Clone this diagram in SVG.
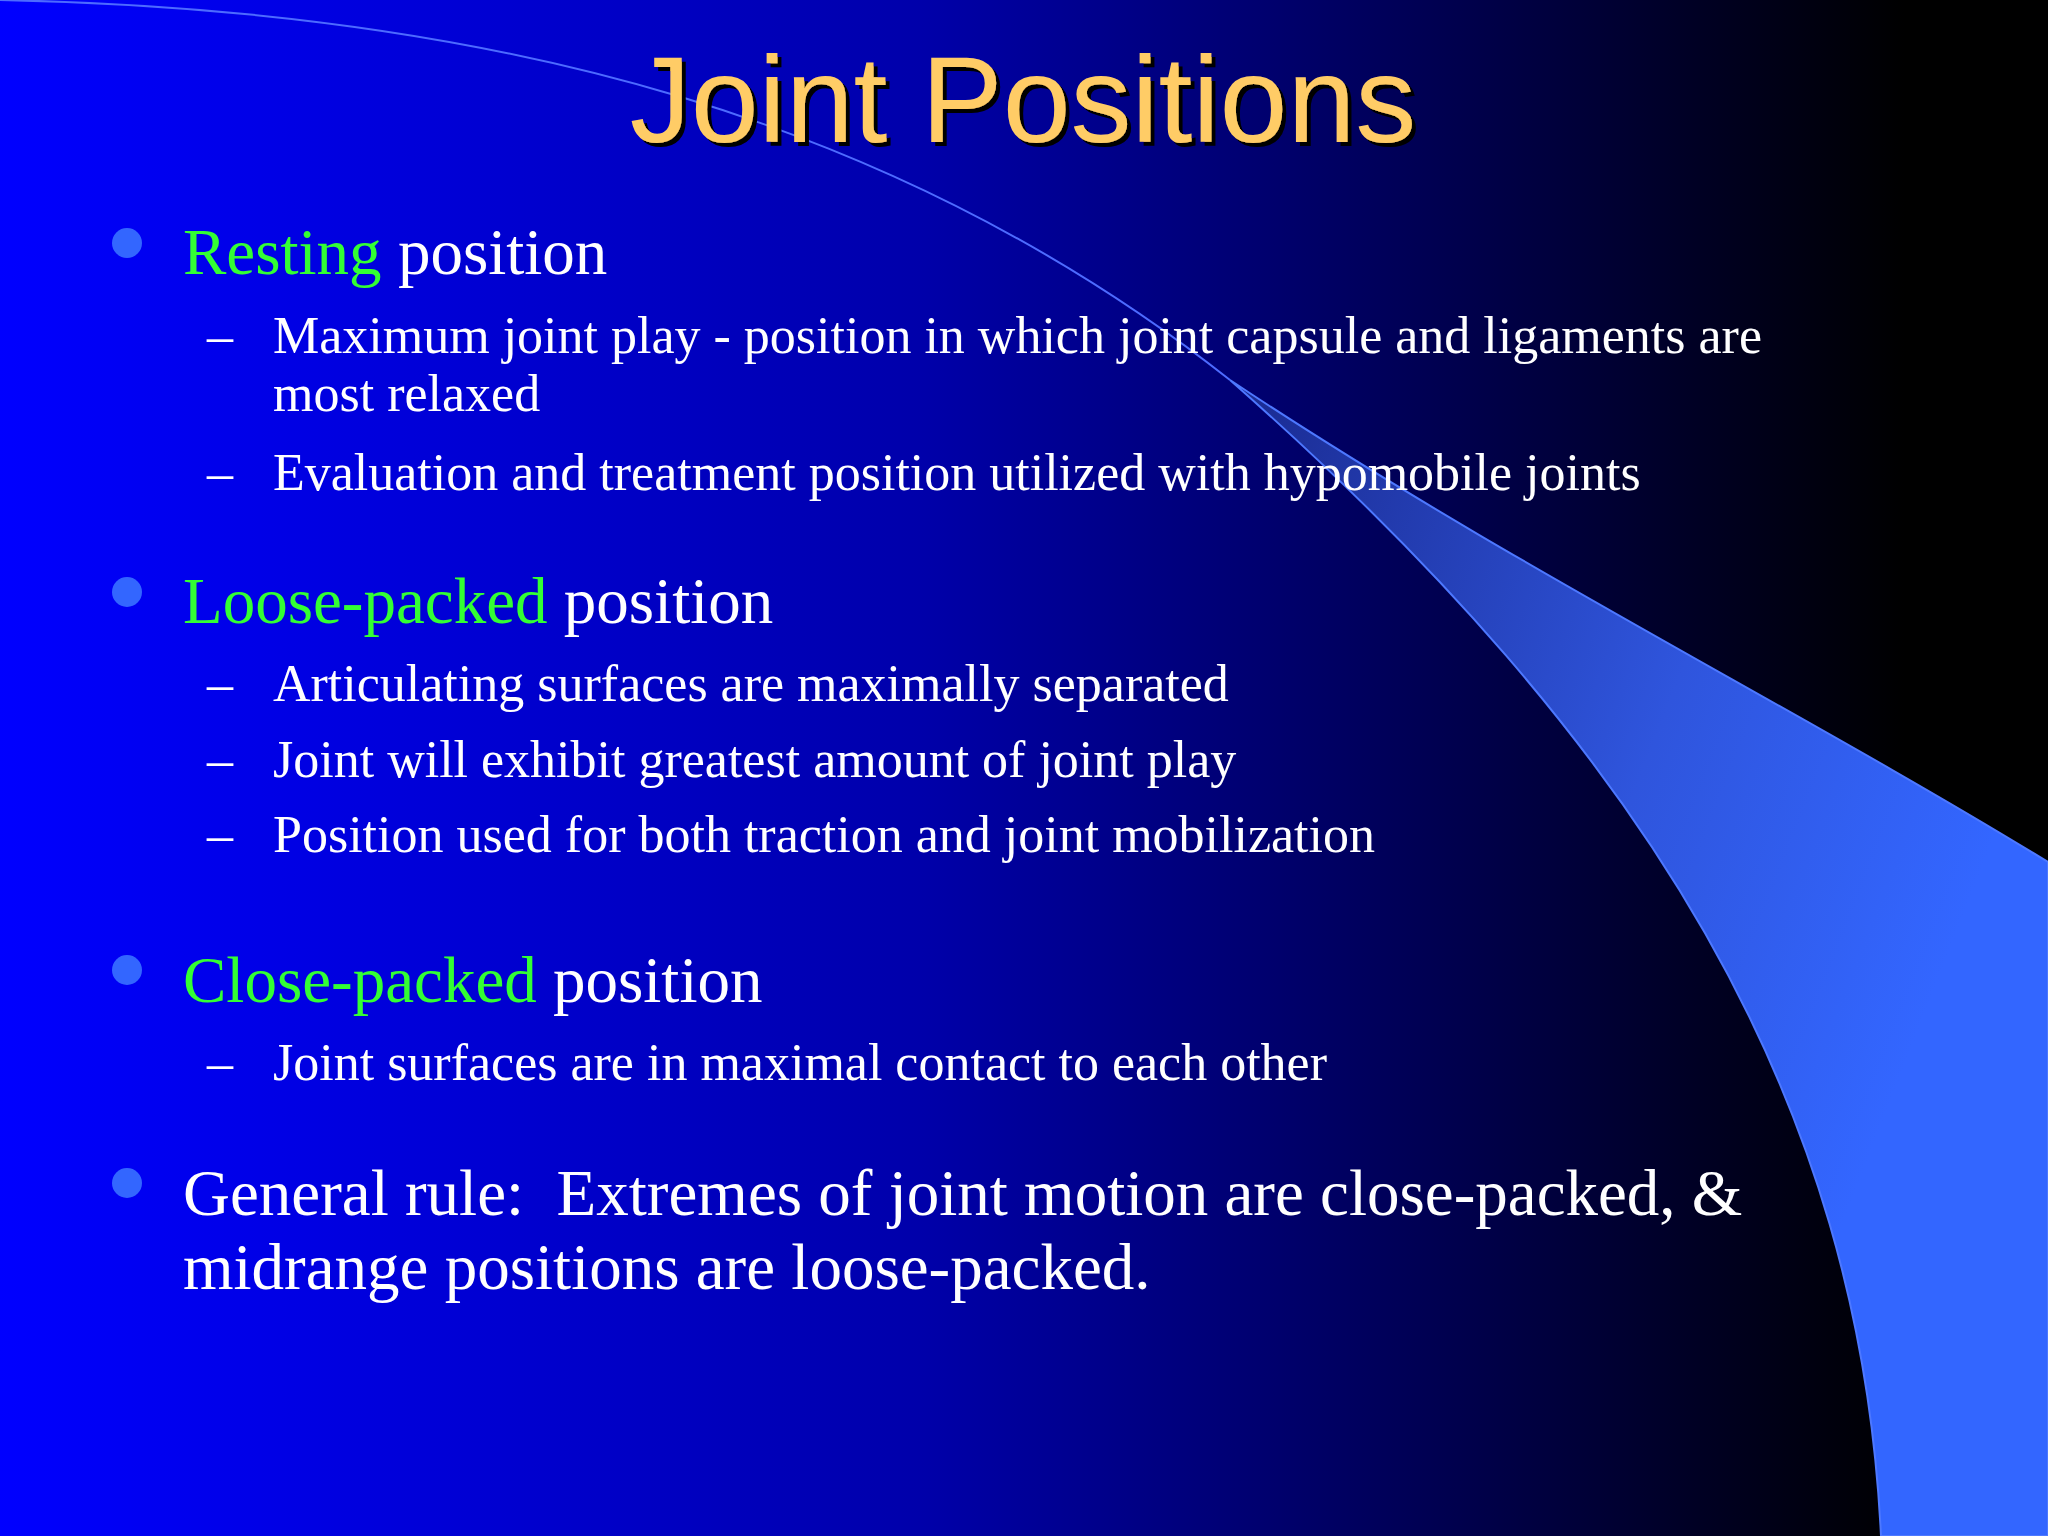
<svg xmlns="http://www.w3.org/2000/svg" width="2048" height="1536" viewBox="0 0 2048 1536">
<defs>
<linearGradient id="bg" x1="0" y1="0" x2="1" y2="0">
<stop offset="0" stop-color="#0000FF"/>
<stop offset="0.45" stop-color="#0000AA"/>
<stop offset="0.93" stop-color="#000000"/>
</linearGradient>
<linearGradient id="sw" x1="1230" y1="380" x2="2048" y2="700" gradientUnits="userSpaceOnUse">
<stop offset="0" stop-color="#1a2a90"/>
<stop offset="0.6" stop-color="#2f55dd"/>
<stop offset="1" stop-color="#3366FF"/>
</linearGradient>
<filter id="sh"><feDropShadow dx="4" dy="4" stdDeviation="0" flood-color="#000"/></filter>
</defs>
<style>
.t{font-family:"Liberation Serif",serif;fill:#fff}
.g{fill:#33FF33}
.l1{font-size:65px}
.l2{font-size:52px}
.b{fill:#3366FF}
</style>
<rect width="2048" height="1536" fill="url(#bg)"/>
<path d="M0 0 C500 10 900 120 1230 380" fill="none" stroke="#4d6bff" stroke-width="2"/>
<path d="M1230 380 C1500 560 1800 710 2048 862 L2048 1536 L1881 1536 C1860 1100 1650 750 1230 380 Z" fill="url(#sw)" stroke="#4d78ff" stroke-width="2"/>
<text x="1023" y="142" text-anchor="middle" font-family="Liberation Sans,sans-serif" font-size="122" fill="#FFCC66" filter="url(#sh)">Joint Positions</text>
<g id="bullets">
<circle class="b" cx="127" cy="243" r="15"/>
<circle class="b" cx="127" cy="592" r="15"/>
<circle class="b" cx="127" cy="970" r="15"/>
<circle class="b" cx="127" cy="1183" r="15"/>
</g>
<g class="t">
<text class="l1" x="183" y="274"><tspan class="g">Resting</tspan> position</text>
<text class="l2" x="207" y="353">–</text>
<text class="l2" x="273" y="353">Maximum joint play - position in which joint capsule and ligaments are</text>
<text class="l2" x="273" y="411">most relaxed</text>
<text class="l2" x="207" y="490">–</text>
<text class="l2" x="273" y="490">Evaluation and treatment position utilized with hypomobile joints</text>
<text class="l1" x="183" y="623"><tspan class="g">Loose-packed</tspan> position</text>
<text class="l2" x="207" y="701">–</text>
<text class="l2" x="273" y="701">Articulating surfaces are maximally separated</text>
<text class="l2" x="207" y="777">–</text>
<text class="l2" x="273" y="777">Joint will exhibit greatest amount of joint play</text>
<text class="l2" x="207" y="852">–</text>
<text class="l2" x="273" y="852">Position used for both traction and joint mobilization</text>
<text class="l1" x="183" y="1002"><tspan class="g">Close-packed</tspan> position</text>
<text class="l2" x="207" y="1080">–</text>
<text class="l2" x="273" y="1080">Joint surfaces are in maximal contact to each other</text>
<text class="l1" x="183" y="1215" xml:space="preserve">General rule:  Extremes of joint motion are close-packed, &amp;</text>
<text class="l1" x="183" y="1289">midrange positions are loose-packed.</text>
</g>
</svg>
